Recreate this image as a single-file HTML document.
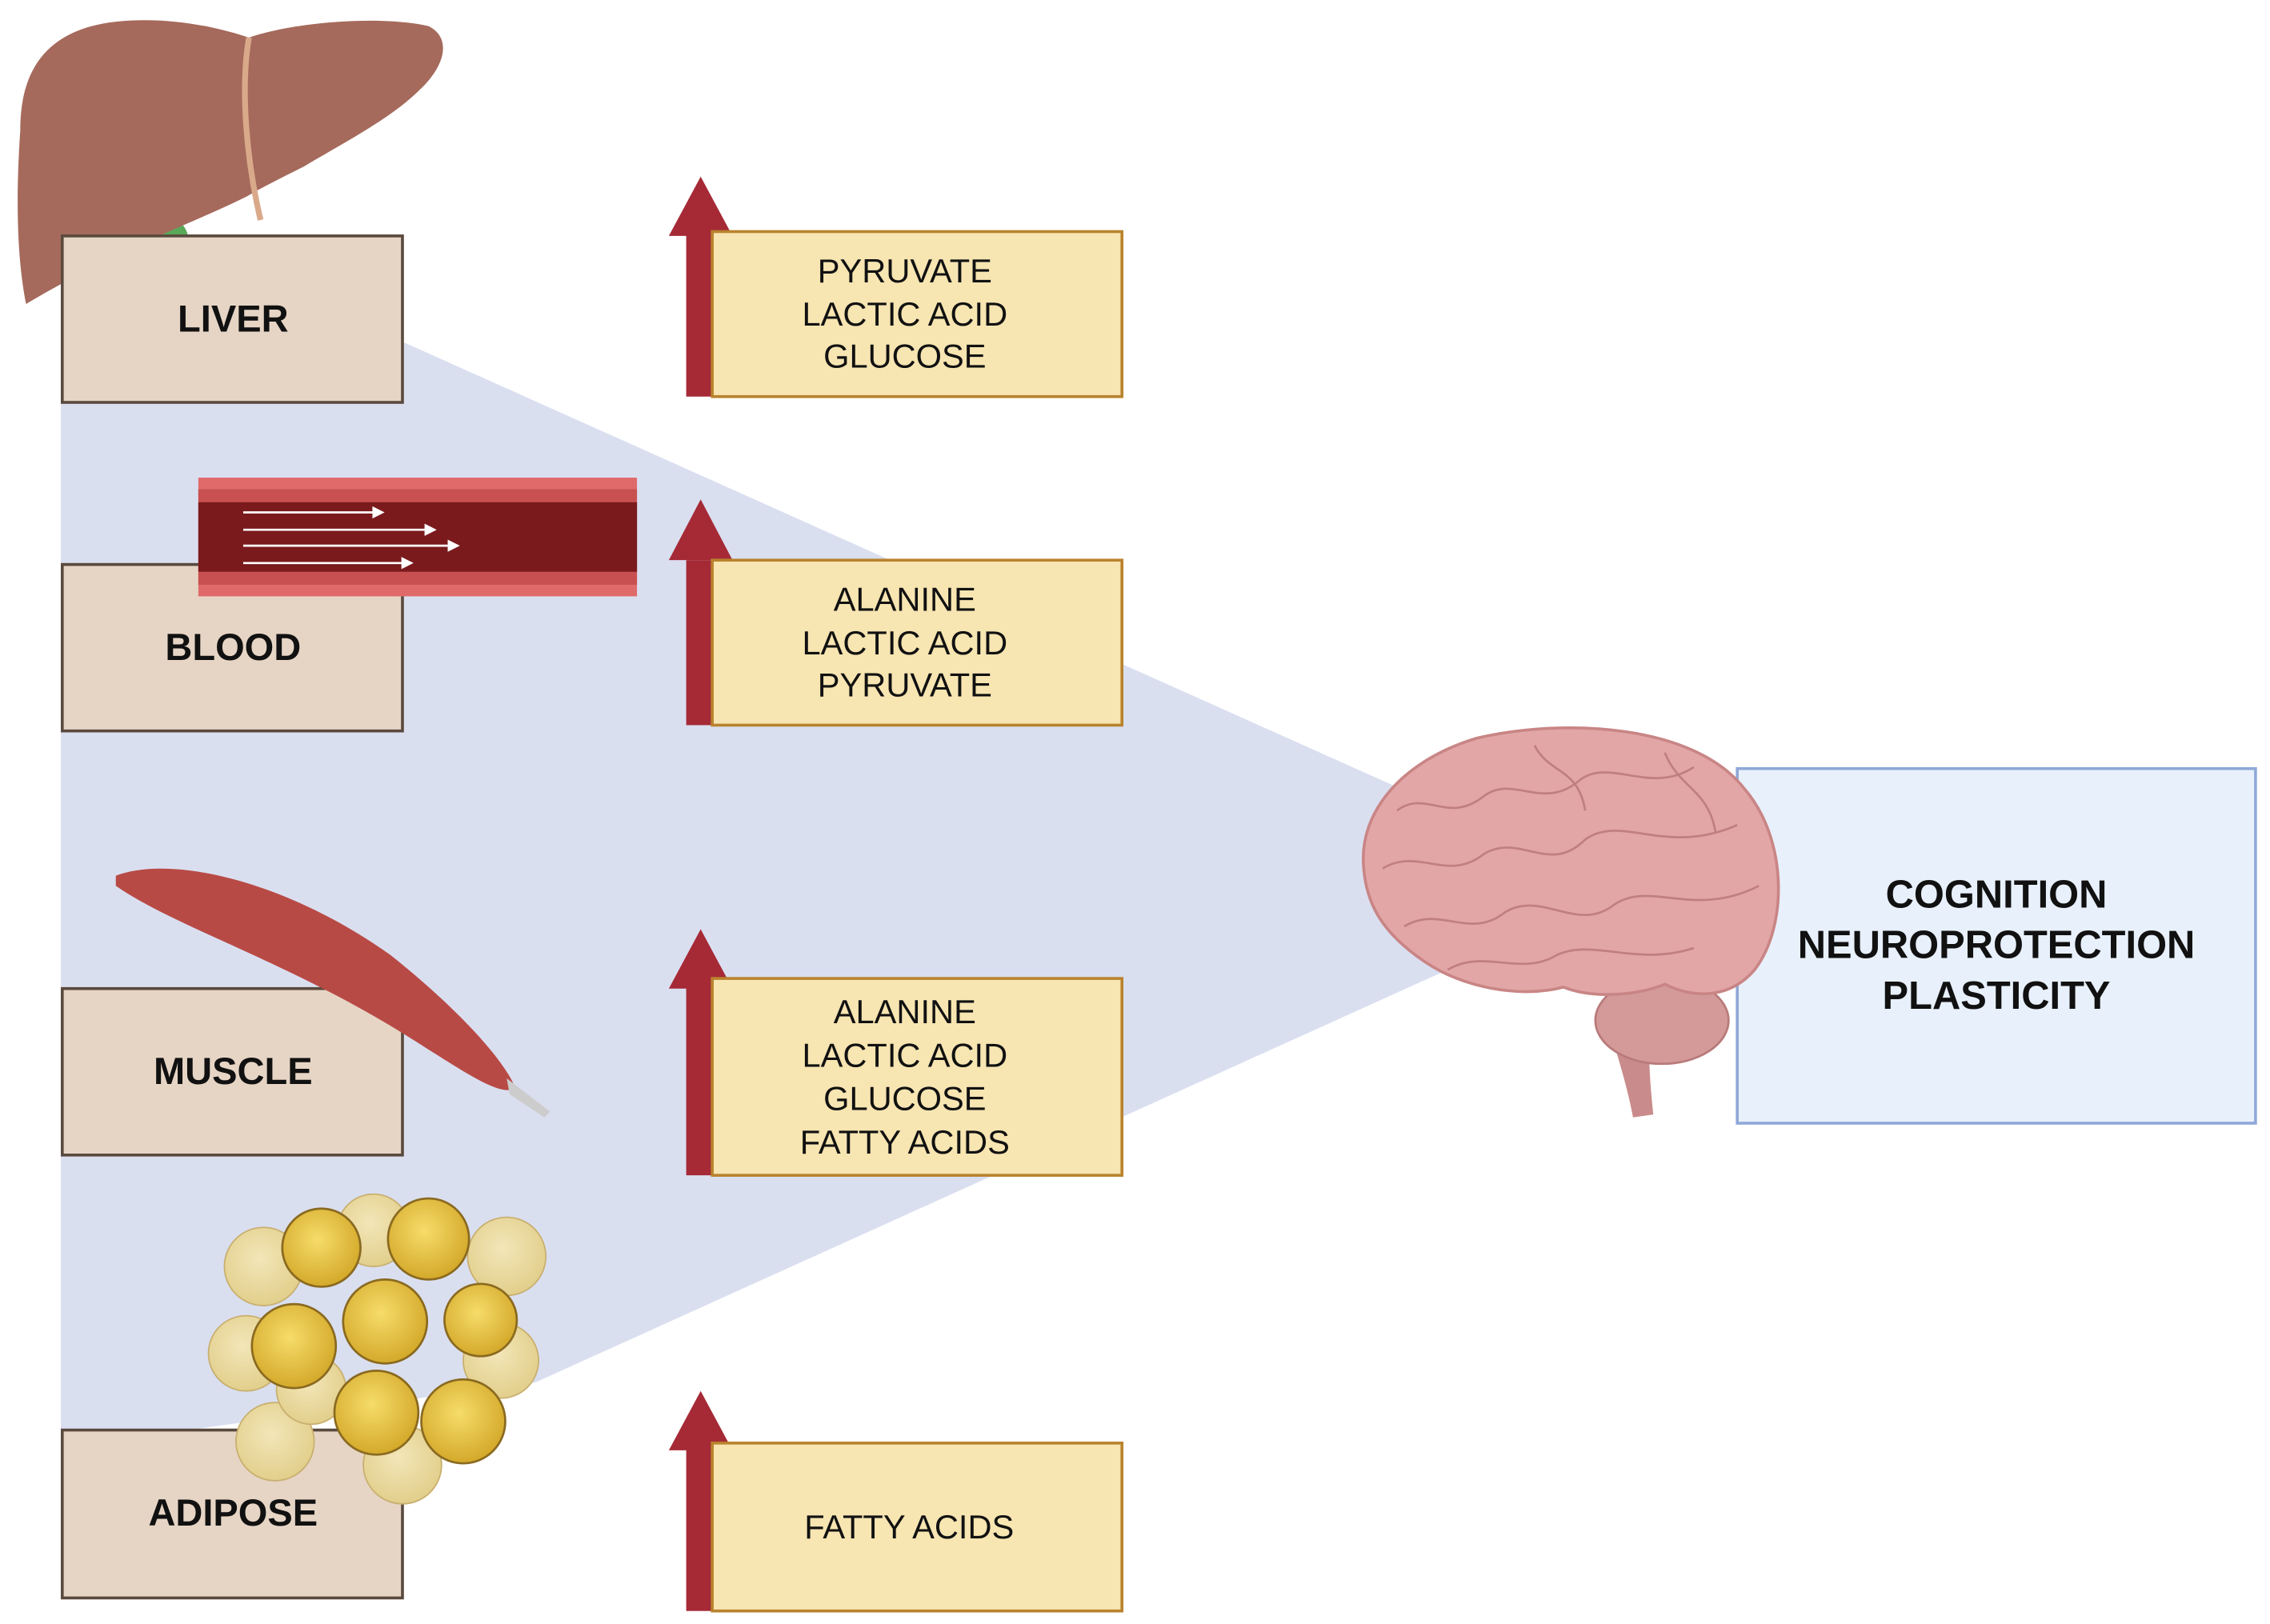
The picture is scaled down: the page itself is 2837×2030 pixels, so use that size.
<!DOCTYPE html>
<html><head><meta charset="utf-8"><style>
html,body{margin:0;padding:0;background:#fff;width:2837px;height:2030px;overflow:hidden}
svg{display:block}
text{font-family:"Liberation Sans",sans-serif}
</style></head><body>
<svg width="2837" height="2030" viewBox="0 0 1568 1122" preserveAspectRatio="none" xmlns="http://www.w3.org/2000/svg">
<defs>
<radialGradient id="fat" cx="45%" cy="40%" r="60%"><stop offset="0" stop-color="#f6dc6a"/><stop offset="1" stop-color="#d4a92a"/></radialGradient>
<radialGradient id="fatl" cx="45%" cy="40%" r="60%"><stop offset="0" stop-color="#f3e6b8"/><stop offset="1" stop-color="#e2cf8c"/></radialGradient>
</defs>
<polygon points="42,235 280,237 990,555 1000,670 370,955 42,1000" fill="#dadff0"/>

<!-- liver -->
<ellipse cx="105" cy="165" rx="25" ry="18" fill="#5aa85a"/>
<path d="M14,90 C14,40 40,15 95,14 C130,13 160,22 172,26 C200,16 260,10 296,18 C312,26 308,45 290,62 C270,82 235,100 210,115 C190,125 180,130 170,136 C150,146 120,158 90,172 C60,186 35,200 18,210 C10,170 12,120 14,90 Z" fill="#a56a5c"/>
<path d="M172,26 C166,60 170,110 180,152" stroke="#d9a98a" stroke-width="4" fill="none"/>

<g fill="#e6d5c5" stroke="#5a4a3e" stroke-width="2">
<rect x="43" y="163" width="235" height="115"/>
<rect x="43" y="390" width="235" height="115"/>
<rect x="43" y="683" width="235" height="115"/>
<rect x="43" y="988" width="235" height="116"/>
</g>
<g font-weight="bold" font-size="26" text-anchor="middle" fill="#111">
<text x="161" y="229">LIVER</text>
<text x="161" y="456">BLOOD</text>
<text x="161" y="749">MUSCLE</text>
<text x="161" y="1054">ADIPOSE</text>
</g>

<rect x="137" y="330" width="303" height="82" fill="#e06a6a"/>
<rect x="137" y="338" width="303" height="66" fill="#c85050"/>
<rect x="137" y="347" width="303" height="48" fill="#7a1a1c"/>
<g stroke="#fff" stroke-width="1.5" fill="#fff">
<line x1="168" y1="354" x2="260" y2="354"/><polygon points="258,351 264,354 258,357"/>
<line x1="168" y1="366" x2="296" y2="366"/><polygon points="294,363 300,366 294,369"/>
<line x1="168" y1="377" x2="312" y2="377"/><polygon points="310,374 316,377 310,380"/>
<line x1="168" y1="389" x2="280" y2="389"/><polygon points="278,386 284,389 278,392"/>
</g>

<path d="M80,605 C120,590 200,610 270,660 C320,700 350,735 356,752 C345,758 320,740 280,715 C200,665 120,640 80,612 Z" fill="#b84a45"/>
<path d="M350,745 L380,768 L376,772 L352,756 Z" fill="#ccc"/>

<g stroke="#c9b070" stroke-width="1" fill="url(#fatl)">
<circle cx="182" cy="875" r="27"/><circle cx="258" cy="850" r="25"/><circle cx="350" cy="868" r="27"/>
<circle cx="170" cy="935" r="26"/><circle cx="346" cy="940" r="26"/><circle cx="190" cy="996" r="27"/>
<circle cx="278" cy="1012" r="27"/><circle cx="215" cy="960" r="24"/>
</g>
<g stroke="#8a6a20" stroke-width="1.5" fill="url(#fat)">
<circle cx="222" cy="862" r="27"/><circle cx="296" cy="856" r="28"/>
<circle cx="203" cy="930" r="29"/><circle cx="266" cy="913" r="29"/><circle cx="332" cy="912" r="25"/>
<circle cx="260" cy="976" r="29"/><circle cx="320" cy="982" r="29"/>
</g>

<g fill="#a52a36">
<rect x="474" y="160" width="18" height="114"/><polygon points="462,163 506,163 484,122"/>
<rect x="474" y="387" width="18" height="114"/><polygon points="462,387 506,387 484,345"/>
<rect x="474" y="676" width="18" height="136"/><polygon points="462,683 506,683 484,642"/>
<rect x="474" y="997" width="18" height="116"/><polygon points="462,1002 506,1002 484,961"/>
</g>
<g fill="#f7e5b2" stroke="#b9832e" stroke-width="2">
<rect x="492" y="160" width="283" height="114"/>
<rect x="492" y="387" width="283" height="114"/>
<rect x="492" y="676" width="283" height="136"/>
<rect x="492" y="997" width="283" height="116"/>
</g>
<g font-size="23" text-anchor="middle" fill="#111">
<text x="625" y="195">PYRUVATE</text><text x="625" y="225">LACTIC ACID</text><text x="625" y="254">GLUCOSE</text>
<text x="625" y="422">ALANINE</text><text x="625" y="452">LACTIC ACID</text><text x="625" y="481">PYRUVATE</text>
<text x="625" y="707">ALANINE</text><text x="625" y="737">LACTIC ACID</text><text x="625" y="767">GLUCOSE</text><text x="625" y="797">FATTY ACIDS</text>
<text x="628" y="1063">FATTY ACIDS</text>
</g>

<rect x="1200" y="531" width="358" height="245" fill="#e8f0fb" stroke="#8fa8d8" stroke-width="2"/>
<g font-weight="bold" font-size="27" text-anchor="middle" fill="#111">
<text x="1379" y="627">COGNITION</text>
<text x="1379" y="662">NEUROPROTECTION</text>
<text x="1379" y="697">PLASTICITY</text>
</g>

<!-- brain (drawn over box) -->
<path d="M1108,700 C1118,730 1125,755 1128,772 L1142,770 C1140,750 1138,730 1140,705 Z" fill="#c98b8b"/>
<ellipse cx="1148" cy="705" rx="46" ry="30" fill="#d49a9a" stroke="#b87a7a" stroke-width="1.5"/>
<path d="M942,600 C938,560 970,525 1020,510 C1080,496 1170,500 1205,545 C1235,580 1235,640 1212,670 C1195,690 1170,690 1150,680 C1130,688 1100,690 1080,682 C1050,690 1010,682 985,665 C955,645 944,625 942,600 Z" fill="#e2a6a6" stroke="#c98585" stroke-width="2"/>
<g stroke="#c07f80" stroke-width="1.5" fill="none">
<path d="M965,560 C985,545 1000,570 1025,550 C1045,535 1065,560 1090,540 C1110,522 1140,550 1170,530"/>
<path d="M955,600 C980,585 1000,610 1025,590 C1050,575 1070,605 1095,580 C1120,562 1150,592 1200,570"/>
<path d="M970,640 C995,625 1015,650 1040,630 C1065,615 1090,645 1115,625 C1140,608 1170,635 1215,612"/>
<path d="M1000,670 C1025,655 1050,675 1075,660 C1100,648 1130,668 1170,655"/>
<path d="M1060,515 C1070,535 1090,530 1095,560"/>
<path d="M1150,520 C1160,545 1180,545 1185,575"/>
</g>
</svg>
</body></html>
